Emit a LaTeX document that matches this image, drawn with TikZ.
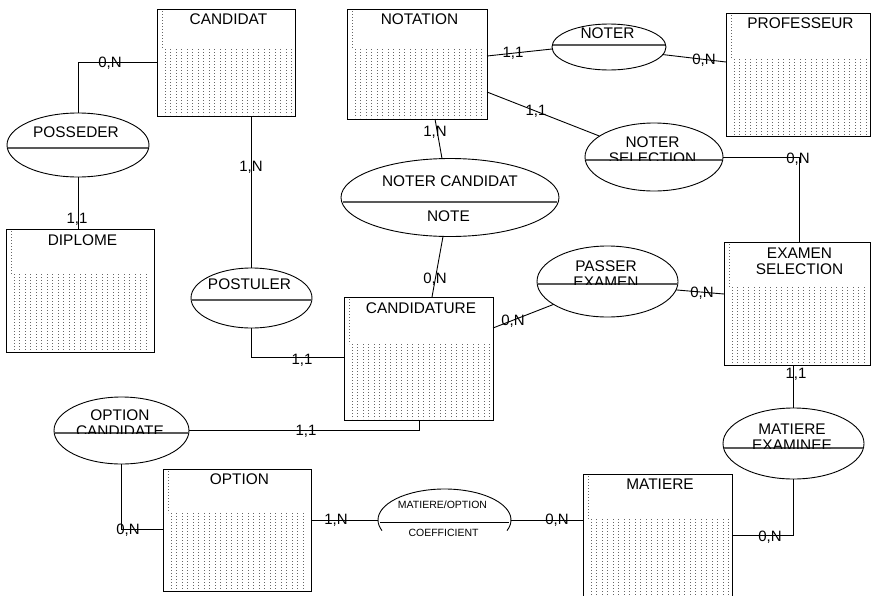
\documentclass[tikz,border=0pt]{standalone}
\usepackage{fontspec}
\setmainfont{Liberation Sans}
\usetikzlibrary{shapes.geometric,calc}
\tikzset{
  ent/.style={draw=black, line width=1pt, rectangle, anchor=north west, inner sep=0pt, outer sep=0pt},
  rel/.style={draw=black, line width=0.9pt, ellipse, inner sep=0pt, outer sep=0pt},
  conn/.style={draw=black, line width=0.9pt},
  card/.style={font=\fontsize{15}{16}\selectfont, inner sep=0pt, text depth=0pt},
  title/.style={font=\fontsize{15.4}{16}\selectfont, inner sep=0pt, align=center},
  small/.style={font=\fontsize{10.5}{12}\selectfont, inner sep=0pt, text depth=0pt},
  divider/.style={draw=black!65, line width=1.3pt},
  dotcol/.style={draw=black!60, line width=0.7pt, dash pattern=on 0.7pt off 2.3pt},
}
% #1 name, #2 x, #3 y, #4 w, #5 h, #6 dot offset, #7 title, #8 title y offset
\newcommand\entbox[8]{%
  \pgfmathsetmacro\ea{#2+8}\pgfmathsetmacro\eb{#2+13.5}\pgfmathsetmacro\ec{#2+#4-3}%
  \pgfmathsetmacro\ey{#3+#6}\pgfmathsetmacro\ez{#3+#5-1}%
  \foreach \xx in {\ea,\eb,...,\ec} \draw[dotcol] (\xx,\ey) -- (\xx,\ez);
  \draw[dotcol] (#2+5,#3+2) -- (#2+5,\ey);
  \node[ent, minimum width=#4, minimum height=#5] (#1) at (#2,#3) {};
  \node[title] (#1-t) at (#2+#4/2+2.5,#3+#8) {#7};
}
% #1 name, #2 cx, #3 cy, #4 rx, #5 ry, #6 divider y
\newcommand\relnode[6]{%
  \node[rel, minimum width=2*#4, minimum height=2*#5] (#1) at (#2,#3) {};
  \pgfmathsetmacro\hc{#4*sqrt(1-((#6-#3)/#5)^2)-0.8}%
  \draw[divider] (#2-\hc,#6) -- (#2+\hc,#6);
}
\begin{document}
\begin{tikzpicture}[x=1pt,y=-1pt]
\clip (0,0) rectangle (871,595);
\fill[white] (0,0) rectangle (871,595);

% entities
\entbox{candidat}{157}{9}{138}{107}{40}{CANDIDAT}{10}
\entbox{notation}{347}{9}{140}{110}{40}{NOTATION}{10}
\entbox{prof}{726}{13}{144}{123}{46}{PROFESSEUR}{10}
\entbox{diplome}{6}{229}{148}{123}{45}{DIPLOME}{11}
\entbox{candidature}{344}{297}{149}{123}{47}{CANDIDATURE}{11}
\entbox{exsel}{724}{242}{146}{123}{45}{EXAMEN\\SELECTION}{19}
\entbox{option}{163}{469}{148}{122}{44}{OPTION}{10}
\entbox{matiere}{583}{474}{149}{130}{45}{MATIERE}{10}

% relationships
\relnode{posseder}{78}{145}{71}{32}{148}
\node[title] (posseder-t) at (76,132) {POSSEDER};
\relnode{noter}{609}{47}{57}{23}{45}
\node[title] (noter-t) at (607.5,33) {NOTER};
\relnode{ns}{654}{157}{69}{34}{160}
\begin{scope}
  \clip (580,120) rectangle (730,160);
  \node[title] (ns-t) at (652.5,150) {NOTER\\SELECTION};
\end{scope}
\relnode{nc}{450}{197.5}{109}{39}{202}
\node[title] (nc-t) at (450,181) {NOTER CANDIDAT};
\node[title] (nc-a) at (448.5,216) {NOTE};
\relnode{pe}{607.5}{281.5}{70.5}{35.5}{284}
\begin{scope}
  \clip (530,240) rectangle (690,284);
  \node[title] (pe-t) at (606,274) {PASSER\\EXAMEN};
\end{scope}
\relnode{postuler}{251.5}{298}{60.5}{30}{300}
\node[title] (postuler-t) at (249.5,284) {POSTULER};
\relnode{oc}{121.5}{430.5}{67.5}{33.5}{433}
\begin{scope}
  \clip (50,390) rectangle (195,433);
  \node[title] (oc-t) at (120,423) {OPTION\\CANDIDATE};
\end{scope}
\relnode{me}{793.5}{443.5}{70.5}{35.5}{448}
\begin{scope}
  \clip (720,400) rectangle (870,448);
  \node[title] (me-t) at (792,437) {MATIERE\\EXAMINEE};
\end{scope}
% MATIERE/OPTION (open ellipse)
\node[ellipse, draw=none, minimum width=133, minimum height=62, inner sep=0pt, outer sep=0pt] (mo) at (444.5,520) {};
\draw[conn] ($(mo.center)+(20:66.5 and 31)$) arc[start angle=20, end angle=-200, x radius=66.5, y radius=31];
\draw[conn] ($(mo.west)+(2,2)$) -- ($(mo.east)+(-2,2)$);
\node[small] (mo-t) at (442.5,505) {MATIERE/OPTION};
\node[small] (mo-a) at (443.5,533) {COEFFICIENT};

% connectors
\draw[conn] ($(candidat.north west)+(0,53)$) -| (posseder.north);
\draw[conn] (posseder.south) -- (posseder.south |- diplome.north);
\draw[conn] (postuler.north |- candidat.south) -- (postuler.north);
\draw[conn] (postuler.south) |- ($(candidature.north west)+(0,60)$);
\draw[conn] ($(notation.south west)+(88,0)$) -- ($(nc.north)+(-8,0)$);
\draw[conn] ($(nc.south)+(-7,0)$) -- ($(candidature.north west)+(88,0)$);
\draw[conn] ($(candidature.north east)+(0,31)$) -- (pe.203);
\draw[conn] (pe.-7) -- ($(exsel.north west)+(0,52)$);
\draw[conn] ($(notation.north east)+(0,47)$) -- (noter.182);
\draw[conn] (noter.-8) -- ($(prof.north west)+(0,49)$);
\draw[conn] ($(notation.north east)+(0,83)$) -- (ns.159);
\draw[conn] (ns.east) -| ($(exsel.north west)+(75,0)$);
\draw[conn] (me.north |- exsel.south) -- (me.north);
\draw[conn] (me.south) |- ($(matiere.north east)+(0,61)$);
\draw[conn] ($(candidature.south west)+(75,0)$) |- (oc.east);
\draw[conn] (oc.south) |- ($(option.north west)+(0,60)$);
\draw[conn] (option.east |- mo.west) -- (mo.west);
\draw[conn] (mo.east) -- (mo.east -| matiere.west);

% cardinalities
\node[card] (c1) at (110,62) {0,N};
\node[card] (c2) at (77,218) {1,1};
\node[card] (c3) at (251,166) {1,N};
\node[card] (c4) at (302,359) {1,1};
\node[card] (c5) at (435,131) {1,N};
\node[card] (c6) at (435,278) {0,N};
\node[card] (c7) at (513,320) {0,N};
\node[card] (c8) at (702,292) {0,N};
\node[card] (c9) at (513,52) {1,1};
\node[card] (c10) at (704,59) {0,N};
\node[card] (c11) at (536,110) {1,1};
\node[card] (c12) at (798,158) {0,N};
\node[card] (c13) at (796,373) {1,1};
\node[card] (c14) at (770,536) {0,N};
\node[card] (c15) at (306,430) {1,1};
\node[card] (c16) at (128,529) {0,N};
\node[card] (c17) at (336,519) {1,N};
\node[card] (c18) at (557,519) {0,N};
\end{tikzpicture}
\end{document}
